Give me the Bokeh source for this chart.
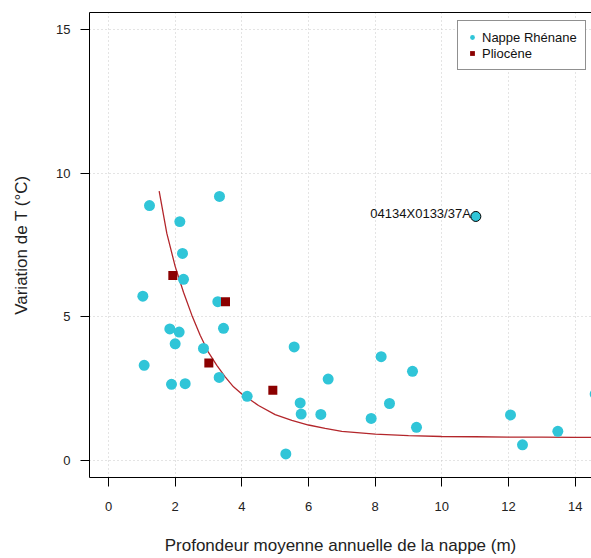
from bokeh.plotting import figure
from bokeh.models import (Range1d, LinearAxis, FixedTicker, Legend, LegendItem,
                          ColumnDataSource)
from bokeh.core.properties import value
from bokeh.embed import file_html
from bokeh.resources import INLINE

# ---- data ----
nappe_x = [1.23, 3.33, 2.14, 2.22, 2.25, 1.03, 3.28, 1.84, 2.12, 3.45, 2.00, 2.85,
           1.07, 1.89, 2.30, 3.32, 4.16, 5.57, 6.59, 5.75, 5.78, 6.37, 5.32, 8.18,
           7.88, 8.43, 9.12, 9.24, 12.06, 12.42, 13.48, 14.6]
nappe_y = [8.87, 9.19, 8.31, 7.20, 6.30, 5.71, 5.52, 4.57, 4.46, 4.59, 4.05, 3.89,
           3.30, 2.64, 2.66, 2.88, 2.22, 3.94, 2.82, 1.99, 1.60, 1.59, 0.21, 3.60,
           1.45, 1.97, 3.09, 1.14, 1.57, 0.53, 1.00, 2.30]
plio_x = [1.93, 3.51, 3.01, 4.93]
plio_y = [6.43, 5.52, 3.38, 2.43]
hl_x = [11.02]
hl_y = [8.49]
hl_label = ["04134X0133/37A"]
fit_x = [1.52, 1.75, 2.0, 2.25, 2.5, 2.75, 3.0, 3.25, 3.5, 3.75, 4.0, 4.5, 5.0,
         5.5, 6.0, 6.5, 7.0, 8.0, 9.0, 10.0, 11.0, 12.0, 13.0, 14.0, 15.0]
fit_y = [9.37, 7.9, 6.75, 5.85, 5.05, 4.35, 3.75, 3.3, 2.9, 2.55, 2.3, 1.9, 1.58,
         1.38, 1.22, 1.1, 1.0, 0.9, 0.85, 0.82, 0.81, 0.80, 0.80, 0.79, 0.79]
x_ticks = [0, 2, 4, 6, 8, 10, 12, 14]
y_ticks = [0, 5, 10, 15]

FONT = "Liberation Sans"
CYAN = "#30C5D8"
DARKRED = "#8B0000"
CURVE = "#B3262B"

p = figure(width=591, height=558, output_backend="svg", toolbar_location=None,
           x_range=Range1d(-0.57, 14.49), y_range=Range1d(-0.61, 15.6),
           min_border_left=89, min_border_right=0, min_border_top=12,
           min_border_bottom=81, background_fill_color="white",
           border_fill_color="white")
p.outline_line_color = None

# grid
for g in (p.xgrid, p.ygrid):
    g.grid_line_color = "#C8C8C8"
    g.grid_line_dash = "1 3"
    g.grid_line_width = 1
p.xgrid.ticker = FixedTicker(ticks=x_ticks)
p.ygrid.ticker = FixedTicker(ticks=y_ticks)

# axes
p.xaxis.ticker = FixedTicker(ticks=x_ticks)
p.yaxis.ticker = FixedTicker(ticks=y_ticks)
for ax in (p.xaxis[0], p.yaxis[0]):
    ax.axis_line_color = "black"
    ax.axis_line_width = 1
    ax.major_tick_line_color = "black"
    ax.major_tick_in = 0
    ax.major_tick_out = 9
    ax.minor_tick_line_color = None
    ax.major_label_text_font = FONT
    ax.major_label_text_font_size = "13px"
    ax.major_label_text_color = "#222222"
    ax.axis_label_text_font = FONT
    ax.axis_label_text_font_size = "17px"
    ax.axis_label_text_font_style = "normal"
    ax.axis_label_text_color = "#222222"
p.xaxis.major_label_standoff = 15
p.yaxis.major_label_standoff = 10
p.xaxis.axis_label = "Profondeur moyenne annuelle de la nappe (m)"
p.yaxis.axis_label = "Variation de T (°C)"
p.xaxis.axis_label_standoff = 22
p.yaxis.axis_label_standoff = 22

top = LinearAxis(ticker=FixedTicker(ticks=[]), axis_line_color="black",
                 major_tick_out=0, major_tick_in=0, minor_tick_out=0,
                 minor_tick_in=0, major_label_text_font_size="0px")
p.add_layout(top, "above")

# data
r_fit = p.line(fit_x, fit_y, line_color=CURVE, line_width=1.3)
r_nappe = p.scatter(nappe_x, nappe_y, marker="circle", size=11,
                    fill_color=CYAN, line_color=None)
r_plio = p.scatter(plio_x, plio_y, marker="square", size=9,
                   fill_color=DARKRED, line_color=None)
hl = ColumnDataSource(dict(x=hl_x, y=hl_y, t=hl_label))
p.scatter("x", "y", source=hl, marker="circle", size=10, fill_color=CYAN,
          line_color="black", line_width=1)
p.text("x", "y", text="t", source=hl, text_align="right",
       text_baseline="middle", x_offset=-5, y_offset=-3,
       text_font=value(FONT), text_font_size="13px", text_color="#111111")

legend = Legend(items=[LegendItem(label="Nappe Rhénane", renderers=[r_nappe]),
                       LegendItem(label="Pliocène", renderers=[r_plio])],
                location=(368, 407), orientation="vertical",
                border_line_color="#222222", border_line_width=1,
                background_fill_color="white", background_fill_alpha=1,
                label_text_font=FONT, label_text_font_size="13px",
                label_text_color="#111111", glyph_width=12, glyph_height=16,
                label_height=16, spacing=0, padding=8, margin=0,
                label_standoff=4)
p.add_layout(legend, "center")

open("out.html", "w").write(file_html(p, INLINE))
